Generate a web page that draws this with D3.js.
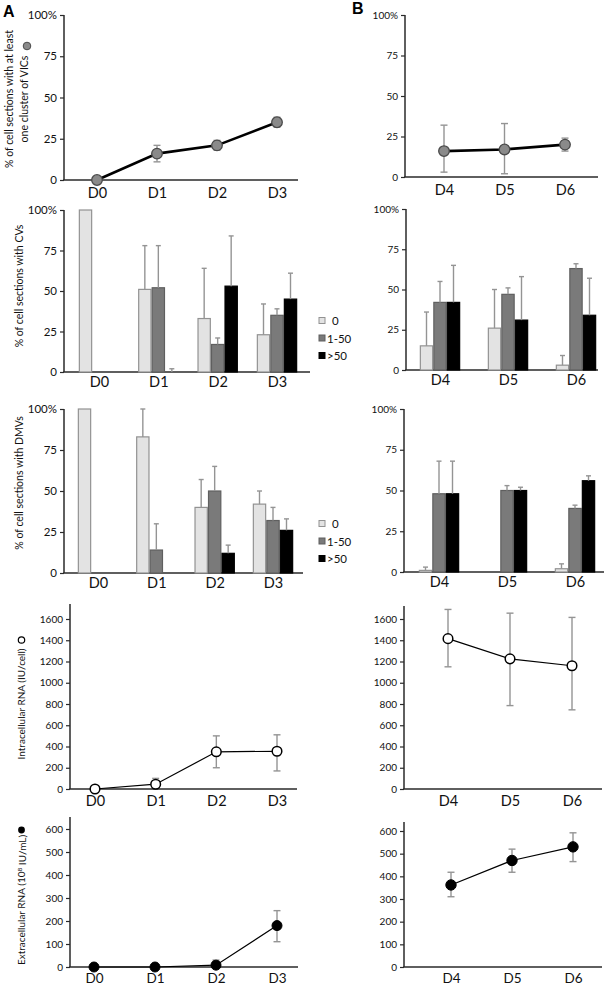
<!DOCTYPE html>
<html>
<head>
<meta charset="utf-8">
<script src="https://cdn.jsdelivr.net/npm/d3@7"></script>
<style>
  body { margin: 0; background: #fff; }
  svg { display: block; font-family: Lato, "Open Sans", sans-serif; }
</style>
</head>
<body>
<script>
// ---- data ----
const daysA = ["D0", "D1", "D2", "D3"],
    daysB = ["D4", "D5", "D6"];

// % of cell sections with at least one cluster of VICs
const vicA = [0, 16, 21, 35],
    vicALo = [0, 11, 18, 32],
    vicAHi = [0, 21, 24, 38];
const vicB = [16, 17, 20],
    vicBLo = [3, 2, 16],
    vicBHi = [32, 33, 24];

// CVs per section: categories 0, 1-50, >50 (value, top of error bar)
const cvGroups = ["0", "1-50", ">50"];
const cvA0 = [100, 51, 33, 23], cvA0Err = [null, 78, 64, 42];
const cvA1 = [null, 52, 17, 35], cvA1Err = [null, 78, 21, 39];
const cvA2 = [null, 0, 53, 45], cvA2Err = [null, 2, 84, 61];
const cvB0 = [15, 26, 3], cvB0Err = [36, 50, 9];
const cvB1 = [42, 47, 63], cvB1Err = [55, 51, 66];
const cvB2 = [42, 31, 34], cvB2Err = [65, 58, 57];

// DMVs per section
const dmvA0 = [100, 83, 40, 42], dmvA0Err = [null, 100, 57, 50];
const dmvA1 = [null, 14, 50, 32], dmvA1Err = [null, 30, 65, 40];
const dmvA2 = [null, 0, 12, 26], dmvA2Err = [null, null, 17, 33];
const dmvB0 = [1, 0, 2], dmvB0Err = [3, null, 5];
const dmvB1 = [48, 50, 39], dmvB1Err = [68, 53, 41];
const dmvB2 = [48, 50, 56], dmvB2Err = [68, 52, 59];

// intracellular RNA (IU/cell)
const intraA = [0, 45, 350, 355],
    intraALo = [0, 20, 200, 170],
    intraAHi = [0, 100, 500, 510];
const intraB = [1415, 1225, 1160],
    intraBLo = [1150, 785, 745],
    intraBHi = [1690, 1655, 1615];

// extracellular RNA (10^8 IU/mL)
const extraA = [0, 0, 8, 180],
    extraALo = [0, 0, 0, 110],
    extraAHi = [0, 0, 30, 245];
const extraB = [362, 470, 530],
    extraBLo = [310, 418, 465],
    extraBHi = [418, 520, 592];

const pctTicks = [0, 25, 50, 75, 100],
    intraTicks = [0, 200, 400, 600, 800, 1000, 1200, 1400, 1600],
    extraTicks = [0, 100, 200, 300, 400, 500, 600];

// ---- styles ----
const axisColor = "#2a2a2a",
    errColor = "#949494",
    barFill = ["#e3e3e3", "#7a7a7a", "#000000"],
    barStroke = ["#929292", "#5f5f5f", "#000000"];

const svg = d3.select("body").append("svg")
    .attr("width", 609)
    .attr("height", 988);

function pctFormat(d) {
    return d === 100 ? "100%" : d;
}

function frame(p) {
    const y = d3.scaleLinear().domain([0, p.max]).range([p.y0, p.yMax]);
    const x = d3.scalePoint().domain(p.cats).range([p.xFirst, p.xLast]);
    const g = svg.append("g");

    g.append("line")
        .attr("x1", p.ax).attr("x2", p.ax)
        .attr("y1", p.axisTop).attr("y2", p.y0)
        .attr("stroke", axisColor).attr("stroke-width", 1.5);
    g.append("line")
        .attr("x1", p.ax - 0.75).attr("x2", p.xEnd)
        .attr("y1", p.y0).attr("y2", p.y0)
        .attr("stroke", axisColor).attr("stroke-width", 1.5);

    const ya = g.append("g")
        .attr("transform", "translate(" + p.ax + ",0)")
        .call(d3.axisLeft(y).tickValues(p.ticks).tickSize(4).tickPadding(3).tickFormat(p.fmt));
    ya.select(".domain").remove();
    ya.selectAll(".tick line").attr("stroke", axisColor).attr("stroke-width", 1.2);
    ya.selectAll(".tick text")
        .attr("fill", "#111")
        .style("font-size", p.tickFont + "px")
        .style("font-family", "Lato, sans-serif");

    const xa = g.append("g")
        .attr("transform", "translate(0," + p.y0 + ")")
        .call(d3.axisBottom(x).tickSize(0).tickPadding(p.xPad));
    xa.select(".domain").remove();
    xa.selectAll(".tick text")
        .attr("fill", "#111")
        .style("font-size", (p.xFont || 14.5) + "px")
        .style("font-family", "Lato, sans-serif");

    return {g, x, y};
}

function linePanel(p, vals, lo, hi, style) {
    const {g, x, y} = frame(p);
    const pts = p.cats.map((c, i) => ({c, v: vals[i], lo: lo[i], hi: hi[i]}));

    pts.forEach(d => {
        if (d.hi > d.v || d.lo < d.v) {
            const g2 = g.append("g");
            g2.append("line")
                .attr("x1", x(d.c)).attr("x2", x(d.c))
                .attr("y1", y(d.lo)).attr("y2", y(d.hi))
                .attr("stroke", errColor).attr("stroke-width", 1.4);
            [d.lo, d.hi].forEach(e => {
                if (e === d.v) return;
                g2.append("line")
                    .attr("x1", x(d.c) - 3.5).attr("x2", x(d.c) + 3.5)
                    .attr("y1", y(e)).attr("y2", y(e))
                    .attr("stroke", errColor).attr("stroke-width", 1.4);
            });
        }
    });

    g.append("path")
        .datum(pts)
        .attr("fill", "none")
        .attr("stroke", "#000")
        .attr("stroke-width", style.lineWidth)
        .attr("d", d3.line().x(d => x(d.c)).y(d => y(d.v)));

    g.selectAll("circle.pt")
        .data(pts)
        .enter().append("circle")
        .attr("class", "pt")
        .attr("cx", d => x(d.c))
        .attr("cy", d => y(d.v))
        .attr("r", style.r)
        .attr("fill", style.fill)
        .attr("stroke", style.stroke)
        .attr("stroke-width", style.strokeWidth);
}

function barPanel(p, series, errs) {
    const {g, x, y} = frame(p);
    const bw = 13.5;
    const sub = d3.scaleBand().domain(cvGroups).range([-1.5 * bw, 1.5 * bw]);

    p.cats.forEach((c, i) => {
        series.forEach((s, k) => {
            const v = s[i], e = errs[k][i];
            if (v === null) return;
            const bx = x(c) + sub(cvGroups[k]);
            const cx = bx + bw / 2;
            if (v > 0) {
                g.append("rect")
                    .attr("x", bx + 0.6)
                    .attr("y", y(v))
                    .attr("width", bw - 1.2)
                    .attr("height", y(0) - y(v))
                    .attr("fill", barFill[k])
                    .attr("stroke", barStroke[k])
                    .attr("stroke-width", 1.2);
            }
            if (e !== null && e > v) {
                g.append("line")
                    .attr("x1", cx).attr("x2", cx).attr("y1", y(v)).attr("y2", y(e))
                    .attr("stroke", errColor).attr("stroke-width", 1.4);
                g.append("line")
                    .attr("x1", cx - 2.5).attr("x2", cx + 2.5).attr("y1", y(e)).attr("y2", y(e))
                    .attr("stroke", errColor).attr("stroke-width", 1.4);
            }
        });
    });
}

function legend(lx, ly) {
    const lg = svg.append("g")
        .attr("font-size", 11.5)
        .selectAll("g")
        .data(cvGroups)
        .enter().append("g")
        .attr("transform", (d, i) => "translate(" + lx + "," + (ly + i * 17.5) + ")");
    lg.append("rect")
        .attr("x", 0).attr("y", -3.5)
        .attr("width", 6).attr("height", 6)
        .attr("fill", (d, i) => barFill[i])
        .attr("stroke", (d, i) => barStroke[i])
        .attr("stroke-width", 1);
    lg.append("text")
        .attr("x", (d, i) => i === 0 ? 13 : 8)
        .attr("y", 0)
        .attr("dy", "0.35em")
        .attr("fill", "#111")
        .text(d => d);
}

function yLabel(x, y, lines, size) {
    const t = svg.append("text")
        .attr("transform", "translate(" + x + "," + y + ") rotate(-90)")
        .attr("text-anchor", "middle")
        .attr("font-size", size)
        .attr("fill", "#111");
    lines.forEach((l, i) => {
        t.append("tspan").attr("x", 0).attr("dy", i === 0 ? 0 : "1.4em").text(l);
    });
    return t;
}

// ---- row 1: VICs ----
linePanel({ax: 64, y0: 180, yMax: 15, axisTop: 15, max: 100, xEnd: 298, cats: daysA,
        xFirst: 97, xLast: 277, ticks: pctTicks, fmt: pctFormat, tickFont: 11.5, xPad: 8},
    vicA, vicALo, vicAHi,
    {lineWidth: 2.6, r: 5.3, fill: "#8a8a8a", stroke: "#4a4a4a", strokeWidth: 1.3});
linePanel({ax: 405, y0: 177, yMax: 15, axisTop: 15, max: 100, xEnd: 598, cats: daysB,
        xFirst: 444, xLast: 565, ticks: pctTicks, fmt: pctFormat, tickFont: 10, xPad: 8},
    vicB, vicBLo, vicBHi,
    {lineWidth: 2.6, r: 5.3, fill: "#8a8a8a", stroke: "#4a4a4a", strokeWidth: 1.3});

// ---- row 2: CVs ----
barPanel({ax: 64, y0: 372, yMax: 210, axisTop: 210, max: 100, xEnd: 310, cats: daysA,
        xFirst: 99, xLast: 277, ticks: pctTicks, fmt: pctFormat, tickFont: 11.5, xPad: 5},
    [cvA0, cvA1, cvA2], [cvA0Err, cvA1Err, cvA2Err]);
barPanel({ax: 406, y0: 370, yMax: 209, axisTop: 209, max: 100, xEnd: 598, cats: daysB,
        xFirst: 440, xLast: 576, ticks: pctTicks, fmt: pctFormat, tickFont: 10, xPad: 5},
    [cvB0, cvB1, cvB2], [cvB0Err, cvB1Err, cvB2Err]);
legend(319, 321);

// ---- row 3: DMVs ----
barPanel({ax: 64, y0: 573, yMax: 409, axisTop: 409, max: 100, xEnd: 303, cats: daysA,
        xFirst: 98, xLast: 273, ticks: pctTicks, fmt: pctFormat, tickFont: 11.5, xPad: 5},
    [dmvA0, dmvA1, dmvA2], [dmvA0Err, dmvA1Err, dmvA2Err]);
barPanel({ax: 404, y0: 572, yMax: 409, axisTop: 409, max: 100, xEnd: 604, cats: daysB,
        xFirst: 439, xLast: 575, ticks: pctTicks, fmt: pctFormat, tickFont: 10, xPad: 5},
    [dmvB0, dmvB1, dmvB2], [dmvB0Err, dmvB1Err, dmvB2Err]);
legend(319, 524);

// ---- row 4: intracellular RNA ----
linePanel({ax: 70, y0: 789, yMax: 619, axisTop: 604, max: 1600, xEnd: 297, cats: daysA,
        xFirst: 95, xLast: 277, ticks: intraTicks, fmt: d => d, tickFont: 10, xPad: 7},
    intraA, intraALo, intraAHi,
    {lineWidth: 1.2, r: 4.8, fill: "#fff", stroke: "#000", strokeWidth: 1.5});
linePanel({ax: 404, y0: 789, yMax: 619, axisTop: 606, max: 1600, xEnd: 602, cats: daysB,
        xFirst: 448, xLast: 572, ticks: intraTicks, fmt: d => d, tickFont: 10, xPad: 7},
    intraB, intraBLo, intraBHi,
    {lineWidth: 1.2, r: 4.8, fill: "#fff", stroke: "#000", strokeWidth: 1.5});

// ---- row 5: extracellular RNA ----
linePanel({ax: 70, y0: 967, yMax: 829, axisTop: 817, max: 600, xEnd: 298, cats: daysA,
        xFirst: 94, xLast: 277, ticks: extraTicks, fmt: d => d, tickFont: 10, xPad: 6, xFont: 13.5},
    extraA, extraALo, extraAHi,
    {lineWidth: 1.2, r: 5, fill: "#000", stroke: "#000", strokeWidth: 1});
linePanel({ax: 404, y0: 967, yMax: 831, axisTop: 822, max: 600, xEnd: 602, cats: daysB,
        xFirst: 451, xLast: 573, ticks: extraTicks, fmt: d => d, tickFont: 10, xPad: 6, xFont: 13.5},
    extraB, extraBLo, extraBHi,
    {lineWidth: 1.2, r: 5.2, fill: "#000", stroke: "#000", strokeWidth: 1});

// ---- axis titles ----
yLabel(13, 99, ["% of cell sections with at least", "one cluster of VICs"], 10.5);
svg.append("circle").attr("cx", 27).attr("cy", 46).attr("r", 3.8)
    .attr("fill", "#8a8a8a").attr("stroke", "#4a4a4a").attr("stroke-width", 1);
yLabel(23, 286, ["% of cell sections with CVs"], 10.5);
yLabel(23, 483, ["% of cell sections with DMVs"], 10.5);
yLabel(25, 704, ["Intracellular RNA  (IU/cell)"], 10);
svg.append("circle").attr("cx", 21.5).attr("cy", 640).attr("r", 3.2)
    .attr("fill", "#fff").attr("stroke", "#000").attr("stroke-width", 1.2);
const ext = yLabel(25, 900, ["Extracellular RNA  (10"], 10);
ext.select("tspan").append("tspan").attr("dy", "-0.4em").attr("font-size", 6.5).text("8");
ext.select("tspan").append("tspan").attr("dy", "0.4em").text(" IU/mL)");
svg.append("circle").attr("cx", 21.5).attr("cy", 830).attr("r", 3.4).attr("fill", "#000");

// ---- panel letters ----
svg.append("text").attr("x", 3).attr("y", 17)
    .attr("font-family", "Liberation Sans, Arial, sans-serif")
    .attr("font-weight", "bold").attr("font-size", 16).text("A");
svg.append("text").attr("x", 352).attr("y", 14)
    .attr("font-family", "Liberation Sans, Arial, sans-serif")
    .attr("font-weight", "bold").attr("font-size", 16).text("B");
</script>
</body>
</html>
